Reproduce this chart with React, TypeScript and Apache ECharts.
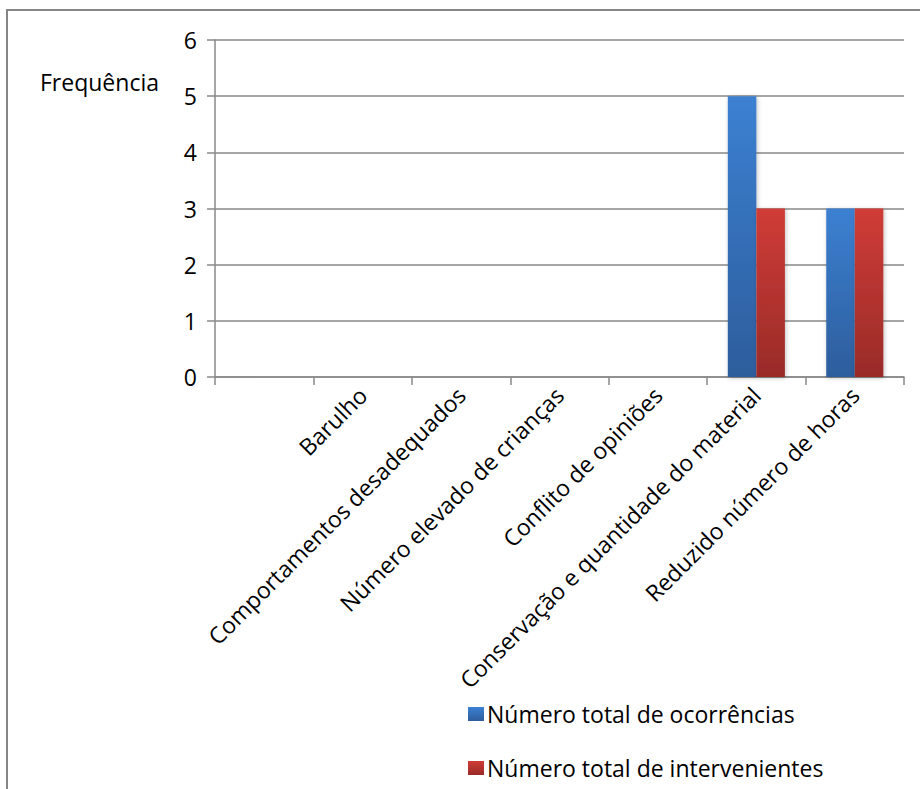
import React, { useEffect, useRef } from "react";
import * as echarts from "echarts";

const categories = [
  "",
  "Barulho",
  "Comportamentos desadequados",
  "Número elevado de crianças",
  "Conflito de opiniões",
  "Conservação e quantidade do material",
  "Reduzido número de horas",
];
const ocorrencias = [0, 0, 0, 0, 0, 5, 3];
const intervenientes = [0, 0, 0, 0, 0, 3, 3];
const seriesNames = ["Número total de ocorrências", "Número total de intervenientes"];
const yTicks = { min: 0, max: 6, interval: 1 };

const FONT = "'Open Sans', 'Noto Sans', sans-serif";
const FS = 23;

export default function App() {
  const ref = useRef<HTMLDivElement>(null);
  useEffect(() => {
    if (!ref.current) return;
    const chart = echarts.init(ref.current, null, { renderer: "svg" });
    const blue = new echarts.graphic.LinearGradient(0, 0, 0, 1, [
      { offset: 0, color: "#3C80D2" },
      { offset: 1, color: "#2D5D9C" },
    ]);
    const red = new echarts.graphic.LinearGradient(0, 0, 0, 1, [
      { offset: 0, color: "#D03C37" },
      { offset: 1, color: "#992B28" },
    ]);
    chart.setOption({
      animation: false,
      backgroundColor: "#ffffff",
      textStyle: { fontFamily: FONT },
      graphic: [
        {
          type: "rect",
          shape: { x: 7, y: 10, width: 1000, height: 1000 },
          style: { fill: "none", stroke: "#868686", lineWidth: 2 },
          silent: true,
        },
        {
          type: "text",
          x: 40,
          y: 82,
          style: {
            text: "Frequência",
            font: `${FS}px ${FONT}`,
            fill: "#000",
            textVerticalAlign: "middle",
          },
        },
      ],
      grid: { left: 215, top: 40, right: 16, bottom: 412, containLabel: false },
      legend: {
        orient: "vertical",
        left: 463,
        top: 697,
        itemWidth: 16,
        itemHeight: 14,
        itemGap: 30,
        icon: "rect",
        textStyle: {
          fontSize: FS,
          lineHeight: 24,
          color: "#000",
          fontFamily: FONT,
          padding: [0, 0, 0, -2],
        },
        data: seriesNames,
      },
      xAxis: {
        type: "category",
        data: categories,
        axisLine: { show: true, lineStyle: { color: "#888", width: 1.5 } },
        axisTick: { show: true, length: 8, lineStyle: { color: "#888", width: 1.5 } },
        axisLabel: {
          rotate: 45,
          interval: 0,
          fontSize: FS,
          color: "#000",
          margin: 14,
          fontFamily: FONT,
        },
      },
      yAxis: {
        type: "value",
        min: yTicks.min,
        max: yTicks.max,
        interval: yTicks.interval,
        axisLine: { show: true, lineStyle: { color: "#888", width: 1.5 } },
        axisTick: { show: true, length: 8, lineStyle: { color: "#888", width: 1.5 } },
        axisLabel: { fontSize: FS, color: "#000", margin: 18, fontFamily: FONT },
        splitLine: { show: true, lineStyle: { color: "#888", width: 1.5 } },
      },
      series: [
        {
          name: seriesNames[0],
          type: "bar",
          data: ocorrencias,
          barGap: "0%",
          barCategoryGap: "42%",
          itemStyle: {
            color: blue,
            shadowColor: "rgba(0,0,0,0.25)",
            shadowBlur: 4,
            shadowOffsetX: 1,
            shadowOffsetY: 1,
          },
        },
        {
          name: seriesNames[1],
          type: "bar",
          data: intervenientes,
          barGap: "0%",
          barCategoryGap: "42%",
          itemStyle: {
            color: red,
            shadowColor: "rgba(0,0,0,0.25)",
            shadowBlur: 4,
            shadowOffsetX: 1,
            shadowOffsetY: 1,
          },
        },
      ],
    });
    return () => chart.dispose();
  }, []);
  return <div ref={ref} style={{ width: 920, height: 789, position: "absolute", left: 0, top: 0 }} />;
}
